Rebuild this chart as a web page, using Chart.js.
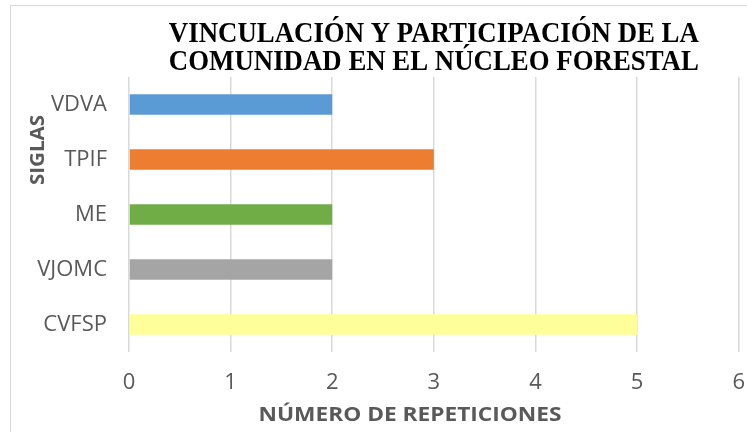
<!DOCTYPE html>
<html lang="es">

<head>
  <meta charset="utf-8">
  <title>Vinculación y participación</title>
  <script src="https://cdn.jsdelivr.net/npm/chart.js@4.4.0/dist/chart.umd.min.js"></script>
  <style>
    body { margin: 0; background: #fff; }
    /* canvas is a bit wider than the window so the plot can reach x=738 */
    #wrap { position: relative; width: 747px; height: 432px; overflow: hidden; }
  </style>
</head>

<body>
  <div id="wrap">
    <canvas id="myChart" width="763" height="432"></canvas>
  </div>

  <script>
    // chart data
    const siglas = ['VDVA', 'TPIF', 'ME', 'VJOMC', 'CVFSP'];
    const repeticiones = [2, 3, 2, 2, 5];
    const barColors = ['#5B9BD5', '#ED7D31', '#70AD47', '#A5A5A5', '#FFFF99'];
    const titleLines = ['VINCULACIÓN Y PARTICIPACIÓN DE LA', 'COMUNIDAD EN EL NÚCLEO FORESTAL'];
    const xTitle = 'NÚMERO DE REPETICIONES';
    const yTitle = 'SIGLAS';

    const textGray = '#595959';

    // draw text stretched/squeezed to a given width
    function fitText(ctx, text, x, y, width) {
      const w = ctx.measureText(text).width;
      ctx.save();
      ctx.translate(x, y);
      ctx.scale(width / w, 1);
      ctx.fillText(text, 0, 0);
      ctx.restore();
    }

    // border, titles drawn by hand
    const decorations = {
      id: 'decorations',
      beforeDraw(chart) {
        const ctx = chart.ctx;
        ctx.save();
        ctx.fillStyle = '#fff';
        ctx.fillRect(0, 0, chart.width, chart.height);
        ctx.strokeStyle = '#d9d9d9';
        ctx.lineWidth = 1;
        ctx.strokeRect(10.5, 5.5, 760, 460);
        ctx.restore();
      },
      afterDraw(chart) {
        const ctx = chart.ctx;
        const area = chart.chartArea;
        const cx = (area.left + area.right) / 2;
        ctx.save();
        ctx.fillStyle = '#000';
        ctx.font = 'bold 29px "Liberation Serif", "Times New Roman", serif';
        ctx.textAlign = 'center';
        ctx.textBaseline = 'middle';
        ctx.fillText(titleLines[0], cx, 35, 530);
        ctx.fillText(titleLines[1], cx, 63, 530);

        ctx.fillStyle = textGray;
        ctx.font = 'bold 20px "Open Sans", sans-serif';
        ctx.textBaseline = 'alphabetic';
        fitText(ctx, xTitle, 410, 421, 303);

        ctx.translate(44, 150);
        ctx.rotate(-Math.PI / 2);
        fitText(ctx, yTitle, 0, 0, 70);
        ctx.restore();
      }
    };

    const ctx = document.getElementById('myChart');
    const myChart = new Chart(ctx, {
      type: 'bar',
      data: {
        labels: siglas,
        datasets: [{
          data: repeticiones,
          backgroundColor: barColors,
          borderWidth: 0,
          barPercentage: 0.37,
          categoryPercentage: 1
        }]
      },
      options: {
        indexAxis: 'y',
        responsive: false,
        animation: false,
        devicePixelRatio: 1,
        layout: {
          padding: { top: 77, left: 0, right: 0, bottom: 0 }
        },
        plugins: {
          legend: { display: false },
          tooltip: { enabled: false },
          title: { display: false }
        },
        scales: {
          x: {
            min: 0,
            max: 6,
            ticks: {
              stepSize: 1,
              padding: 18,
              color: textGray,
              font: { family: 'Open Sans', size: 22 }
            },
            grid: {
              color: '#d9d9d9',
              lineWidth: 1.5,
              drawTicks: false
            },
            border: { display: false },
            afterFit(scale) {
              scale.height = 80;
            }
          },
          y: {
            ticks: {
              padding: 22,
              color: textGray,
              font: { family: 'Open Sans', size: 22 }
            },
            grid: { display: false, drawTicks: false },
            border: { display: false },
            afterFit(scale) {
              scale.width = 129;
            }
          }
        }
      },
      plugins: [decorations]
    });
  </script>
</body>

</html>
